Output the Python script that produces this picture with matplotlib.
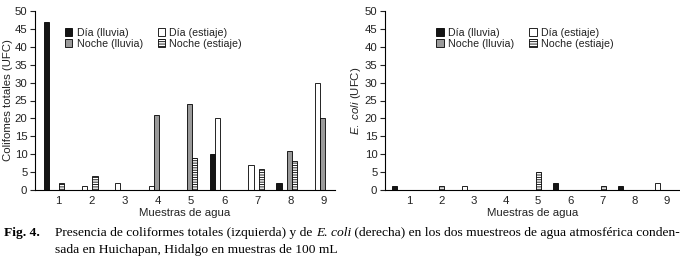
import numpy as np
import matplotlib
matplotlib.use('Agg')
import matplotlib.pyplot as plt
from matplotlib.patches import Patch

plt.rcParams['font.family'] = ['Liberation Sans', 'DejaVu Sans']
plt.rcParams['mathtext.fontset'] = 'custom'
plt.rcParams['mathtext.it'] = 'Liberation Sans:italic'
plt.rcParams['mathtext.rm'] = 'Liberation Sans'
plt.rcParams['hatch.linewidth'] = 0.6

# Datos
muestras = ['1', '2', '3', '4', '5', '6', '7', '8', '9']
series = ['Día (lluvia)', 'Día (estiaje)', 'Noche (lluvia)', 'Noche (estiaje)']

colif_dia_lluvia = [47, 0, 0, 0, 0, 10, 0, 2, 0]
colif_dia_estiaje = [0, 1, 2, 1, 0, 20, 7, 0, 30]
colif_noche_lluvia = [0, 0, 0, 21, 24, 0, 0, 11, 20]
colif_noche_estiaje = [2, 4, 0, 0, 9, 0, 6, 8, 0]

ecoli_dia_lluvia = [1, 0, 0, 0, 0, 2, 0, 1, 0]
ecoli_dia_estiaje = [0, 0, 1, 0, 0, 0, 0, 0, 2]
ecoli_noche_lluvia = [0, 0, 0, 0, 0, 0, 0, 0, 0]
ecoli_noche_estiaje = [0, 1, 0, 0, 5, 0, 1, 0, 0]

estilos = [
    dict(facecolor='#151515', edgecolor='black', hatch=None),
    dict(facecolor='white', edgecolor='black', hatch=None),
    dict(facecolor='#9a9a9a', edgecolor='black', hatch=None),
    dict(facecolor='white', edgecolor='black', hatch='-------'),
]

TXT = '#222222'
W = 0.155
FS_EJE = 8.2


def panel(ax, datos, ylabel, xlim, tick_shift, leg_x):
    x = np.arange(1, len(muestras) + 1)
    offs = (np.arange(4) - 1.5) * W
    for vals, st, off in zip(datos, estilos, offs):
        ax.bar(x + off, vals, W, linewidth=0.6, **st)
    ax.set_xlim(*xlim)
    ax.set_ylim(0, 50)
    ax.set_yticks(range(0, 51, 5))
    ax.set_xticks(x + tick_shift)
    ax.set_xticklabels(muestras)
    ax.tick_params(axis='x', length=0, pad=4, labelsize=FS_EJE, colors=TXT)
    ax.tick_params(axis='y', length=3.5, width=0.8, pad=2, labelsize=FS_EJE, colors=TXT)
    for s in ['top', 'right']:
        ax.spines[s].set_visible(False)
    for s in ['left', 'bottom']:
        ax.spines[s].set_linewidth(0.8)
    ax.set_xlabel('Muestras de agua', fontsize=FS_EJE, color=TXT, labelpad=2)
    ax.set_ylabel(ylabel, fontsize=FS_EJE, color=TXT, labelpad=1)

    handles = [Patch(linewidth=0.6, **estilos[i]) for i in (0, 2, 1, 3)]
    labels = [series[i] for i in (0, 2, 1, 3)]
    ax.legend(handles, labels, ncol=2, loc='upper left',
              bbox_to_anchor=(leg_x, 0.93), frameon=False, fontsize=7.7,
              handlelength=0.7, handleheight=0.7, handletextpad=0.4,
              columnspacing=1.4, labelspacing=0.1, borderaxespad=0,
              labelcolor=TXT)


fig = plt.figure(figsize=(6.8, 2.65), dpi=100)
ax1 = fig.add_axes([35 / 680, 75 / 265, 300 / 680, 179 / 265])
ax2 = fig.add_axes([385 / 680, 75 / 265, 295 / 680, 179 / 265])

panel(ax1, [colif_dia_lluvia, colif_dia_estiaje, colif_noche_lluvia, colif_noche_estiaje],
      'Colifomes totales (UFC)', (0.43, 9.45), 0.12, 0.085)
panel(ax2, [ecoli_dia_lluvia, ecoli_dia_estiaje, ecoli_noche_lluvia, ecoli_noche_estiaje],
      r'$\mathit{E.\ coli}$ (UFC)', (0.47, 9.62), 0.22, 0.16)

# Pie de figura (texto con estilos mezclados)
fig.canvas.draw()
rend = fig.canvas.get_renderer()
FS = 9.7


def linea(x_px, y_px, partes):
    x = x_px
    for txt, estilo in partes:
        kw = dict(fontsize=FS, family=['Liberation Serif', 'DejaVu Serif'],
                  va='baseline', ha='left', color='black')
        if estilo == 'b':
            kw['fontweight'] = 'bold'
        elif estilo == 'i':
            kw['fontstyle'] = 'italic'
        t = fig.text(x / 680, 1 - y_px / 265, txt, **kw)
        x += t.get_window_extent(renderer=rend).width


linea(4, 236, [('Fig. 4.', 'b')])
linea(55, 236, [('Presencia de coliformes totales (izquierda) y de ', 'n'),
                ('E. coli', 'i'),
                (' (derecha) en los dos muestreos de agua atmosférica conden-', 'n')])
linea(55, 253, [('sada en Huichapan, Hidalgo en muestras de 100 mL', 'n')])

fig.savefig('out.png', dpi=100)
